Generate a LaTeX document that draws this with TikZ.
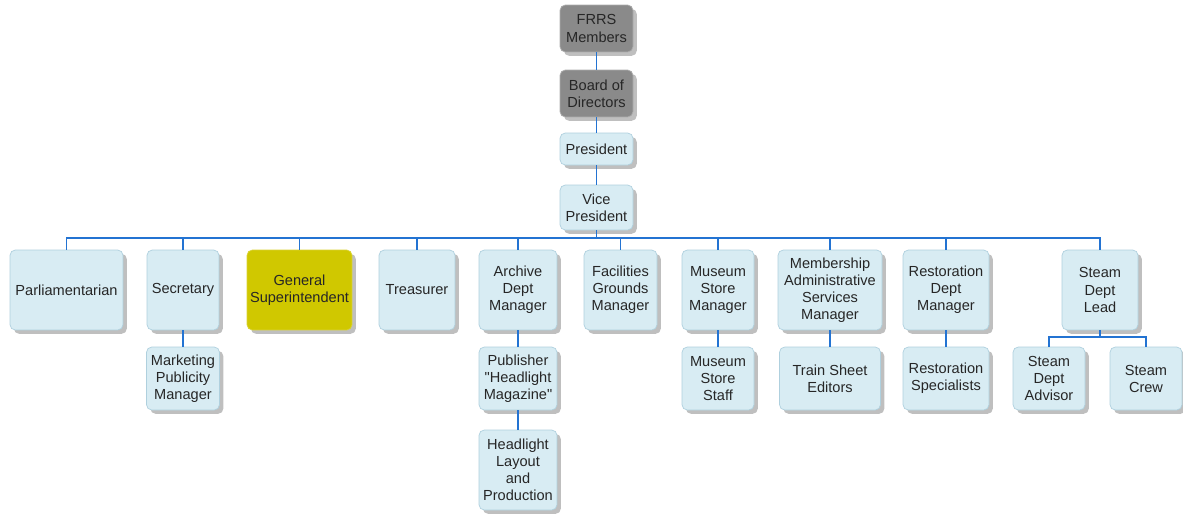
\documentclass[tikz,border=0pt]{standalone}
\usepackage{fontspec}
\setmainfont{Liberation Sans}
\usetikzlibrary{shadows}
\definecolor{boxblue}{RGB}{216,236,243}
\definecolor{boxedge}{RGB}{175,208,222}
\definecolor{boxgray}{RGB}{138,138,138}
\definecolor{boxyellow}{RGB}{208,200,0}
\definecolor{linkblue}{RGB}{35,115,210}
\tikzset{
  box/.style={draw=boxedge, fill=boxblue, rounded corners=3pt, align=center,
    inner sep=1pt, font=\fontsize{8.3}{9.7}\selectfont, text=black!85,
    drop shadow={shadow xshift=2.2pt, shadow yshift=-2.2pt, opacity=0.5}},
  top/.style={box, fill=boxgray, draw=boxgray!70!white},
  link/.style={draw=linkblue, line width=0.8pt}
}
\begin{document}
\begin{tikzpicture}[x=0.02cm, y=-0.02cm]
\useasboundingbox (0,0) rectangle (1183,514);

\node[top, minimum width=1.46cm, minimum height=0.94cm] (members) at (596.5,28.5) {FRRS\\Members};
\node[top, minimum width=1.46cm, minimum height=0.94cm] (board) at (596.5,93.5) {Board of\\Directors};
\node[box, minimum width=1.46cm, minimum height=0.64cm] (pres) at (596.5,149) {President};
\node[box, minimum width=1.46cm, minimum height=0.9cm] (vp) at (596.5,207.5) {Vice\\President};

\node[box, minimum width=2.26cm, minimum height=1.6cm] (parl) at (66.5,290) {Parliamentarian};
\node[box, minimum width=1.44cm, minimum height=1.6cm] (sec) at (183,290) {Secretary};
\node[box, fill=boxyellow, draw=boxyellow!80!white, minimum width=2.1cm, minimum height=1.6cm] (gensup) at (299.5,290) {General\\Superintendent};
\node[box, minimum width=1.52cm, minimum height=1.6cm] (treas) at (417,290) {Treasurer};
\node[box, minimum width=1.56cm, minimum height=1.6cm] (archive) at (518,290) {Archive\\Dept\\Manager};
\node[box, minimum width=1.46cm, minimum height=1.6cm] (facil) at (620.5,290) {Facilities\\Grounds\\Manager};
\node[box, minimum width=1.44cm, minimum height=1.6cm] (mstore) at (718,290) {Museum\\Store\\Manager};
\node[box, minimum width=2.08cm, minimum height=1.6cm] (member) at (830,290) {Membership\\Administrative\\Services\\Manager};
\node[box, minimum width=1.72cm, minimum height=1.6cm] (restor) at (946,290) {Restoration\\Dept\\Manager};
\node[box, minimum width=1.52cm, minimum height=1.6cm] (steam) at (1100,290) {Steam\\Dept\\Lead};

\node[box, minimum width=1.46cm, minimum height=1.26cm] (market) at (183,378.5) {Marketing\\Publicity\\Manager};
\node[box, minimum width=1.56cm, minimum height=1.26cm] (pub) at (518,378.5) {Publisher\\\textquotedbl Headlight\\Magazine\textquotedbl};
\node[box, minimum width=1.44cm, minimum height=1.26cm] (mstaff) at (718,378.5) {Museum\\Store\\Staff};
\node[box, minimum width=2.02cm, minimum height=1.26cm] (train) at (830,378.5) {Train Sheet\\Editors};
\node[box, minimum width=1.72cm, minimum height=1.26cm] (rspec) at (946,378.5) {Restoration\\Specialists};
\node[box, minimum width=1.44cm, minimum height=1.26cm] (sadv) at (1049,378.5) {Steam\\Dept\\Advisor};
\node[box, minimum width=1.44cm, minimum height=1.26cm] (screw) at (1146,378.5) {Steam\\Crew};

\node[box, minimum width=1.56cm, minimum height=1.6cm] (layout) at (518,470) {Headlight\\Layout\\and\\Production};

\coordinate (bus) at (596.5,238);
\coordinate (sbus) at (1100,337);

\draw[link] (members) -- (board);
\draw[link] (board) -- (pres);
\draw[link] (pres) -- (vp);
\draw[link] (vp) -- (bus);
\draw[link] (parl.north) |- (bus);
\draw[link] (sec.north) |- (bus);
\draw[link] (gensup.north) |- (bus);
\draw[link] (treas.north) |- (bus);
\draw[link] (archive.north) |- (bus);
\draw[link] (facil.north) |- (bus);
\draw[link] (mstore.north) |- (bus);
\draw[link] (member.north) |- (bus);
\draw[link] (restor.north) |- (bus);
\draw[link] (steam.north) |- (bus);

\draw[link] (sec) -- (market);
\draw[link] (archive) -- (pub);
\draw[link] (pub) -- (layout);
\draw[link] (mstore) -- (mstaff);
\draw[link] (member) -- (train);
\draw[link] (restor) -- (rspec);
\draw[link] (steam.south) -- (sbus);
\draw[link] (sadv.north) |- (sbus);
\draw[link] (screw.north) |- (sbus);

\end{tikzpicture}
\end{document}
